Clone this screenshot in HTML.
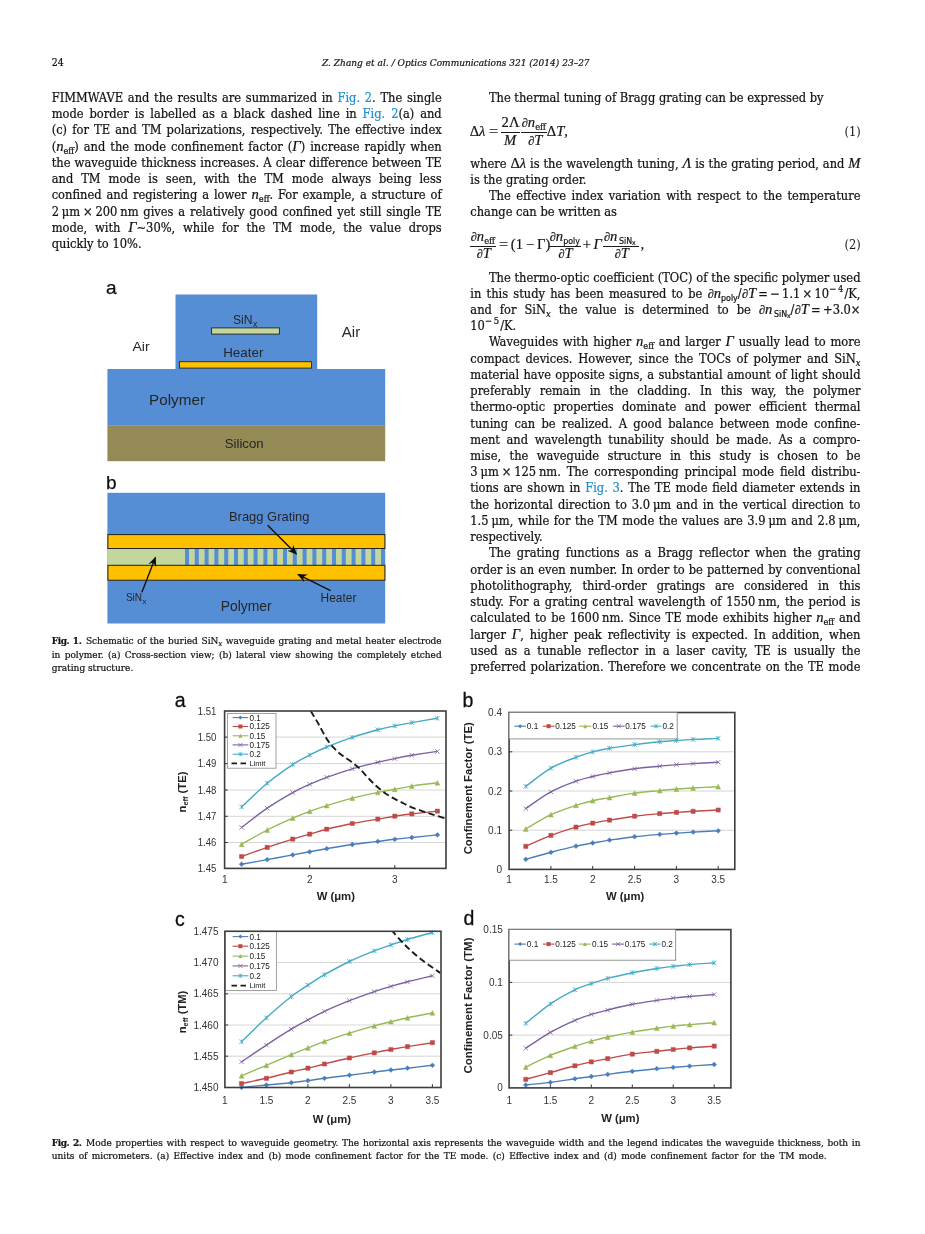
<!DOCTYPE html>
<html lang="en"><head><meta charset="utf-8"><title>Z. Zhang et al. / Optics Communications 321 (2014) 23–27</title>
<style>
html,body{margin:0;padding:0;background:#fff;}
body{width:925px;height:1234px;position:relative;overflow:hidden;color:#141414;font-stretch:condensed;
 font-family:"DejaVu Serif Condensed","DejaVu Serif","Liberation Serif",serif;}
.l{-webkit-text-stroke:0.22px #141414;position:absolute;white-space:nowrap;line-height:16px;font-size:12.75px;height:16px;}
.j{text-align:justify;text-align-last:justify;}
.c{font-size:10px;line-height:12px;height:12px;}
.h{font-size:10.4px;line-height:12px;height:12px;}
.h em{font-size:10px;}
a{color:#2191d0;text-decoration:none;-webkit-text-stroke:0.22px #2191d0;}
b{letter-spacing:-0.4px;}
i,.m{font-family:"Liberation Serif","DejaVu Serif",serif;font-size:14.6px;line-height:0;}
i{font-style:italic;}
i.d{font-size:12.6px;}
.m{font-style:normal;}
sub,sup{font-size:9.2px;line-height:0;position:relative;vertical-align:baseline;}
sub{top:2.6px;} sup{top:-5.6px;font-size:9.4px;}
.c sub{font-size:7.4px;top:1.9px;}
.c i{font-size:11.4px;}
sub sub{font-size:7px;top:1.6px;}
.eq{position:absolute;white-space:nowrap;line-height:0;font-family:"Liberation Serif","DejaVu Serif",serif;font-size:14.6px;}
.eq span{position:absolute;line-height:16px;height:16px;white-space:nowrap;}
.eq sub{font-family:"DejaVu Serif Condensed","DejaVu Serif",serif;font-size:9.3px;top:3px;font-style:normal;}
.eq sub sub{top:1.4px;}
.eq .d{font-size:12.6px;}
.eq span{-webkit-text-stroke:0.2px #141414;}
.eq .w{display:inline-block;transform:scaleX(1.12);transform-origin:0 50%;position:static;}
.bar{position:absolute;height:0;border-top:1px solid #1b1b1b;}
svg{position:absolute;left:0;top:0;}
svg text{font-family:"Liberation Sans","DejaVu Sans",sans-serif;}
</style></head>
<body>
<svg width="925" height="1234" viewBox="0 0 925 1234">
<defs><marker id="ah" viewBox="0 0 10 10" refX="8.5" refY="5" markerWidth="7" markerHeight="7" orient="auto-start-reverse"><path d="M0,0.8 L10,5 L0,9.2 L3,5 Z" fill="#111"/></marker><filter id="sf" x="-2%" y="-2%" width="104%" height="104%"><feGaussianBlur stdDeviation="0.35"/></filter></defs>
<g id="fig1" filter="url(#sf)">
<rect x="175.5" y="294.5" width="141.7" height="75" fill="#558ED5"/>
<rect x="107.4" y="369" width="277.8" height="56.6" fill="#558ED5"/>
<rect x="107.4" y="425.4" width="277.8" height="35.8" fill="#948A54"/>
<rect x="211.6" y="327.9" width="67.8" height="6.2" fill="#C3D69B" stroke="#222" stroke-width="0.9"/>
<rect x="179.4" y="361.7" width="132.1" height="6.4" fill="#FFC000" stroke="#222" stroke-width="0.9"/>
<text x="105.9" y="293.8" font-size="19" fill="#111" stroke="#111" stroke-width="0.25">a</text>
<text x="233.0" y="324.4" font-size="13.4" textLength="19.6" lengthAdjust="spacingAndGlyphs" fill="#262626">SiN</text>
<text x="252.9" y="327.2" font-size="8.6" fill="#262626">x</text>
<text x="223.2" y="357.1" font-size="13.4" textLength="40.2" lengthAdjust="spacingAndGlyphs" fill="#262626">Heater</text>
<text x="132.4" y="351.4" font-size="13.6" textLength="17.2" lengthAdjust="spacingAndGlyphs" fill="#262626">Air</text>
<text x="341.8" y="337.0" font-size="15.2" textLength="18.4" lengthAdjust="spacingAndGlyphs" fill="#262626">Air</text>
<text x="149.0" y="405.3" font-size="14.9" textLength="56.0" lengthAdjust="spacingAndGlyphs" fill="#262626">Polymer</text>
<text x="224.7" y="448.2" font-size="13.2" textLength="39.0" lengthAdjust="spacingAndGlyphs" fill="#262626">Silicon</text>
<text x="106.0" y="489.2" font-size="19" fill="#111" stroke="#111" stroke-width="0.25">b</text>
<rect x="107.4" y="492.8" width="277.8" height="130.7" fill="#558ED5"/>
<rect x="107.4" y="548.4" width="277.8" height="17" fill="#C3D69B"/>
<path d="M185.0,548.4h4v17h-4zM194.8,548.4h4v17h-4zM204.6,548.4h4v17h-4zM214.4,548.4h4v17h-4zM224.2,548.4h4v17h-4zM234.0,548.4h4v17h-4zM243.8,548.4h4v17h-4zM253.6,548.4h4v17h-4zM263.4,548.4h4v17h-4zM273.2,548.4h4v17h-4zM283.0,548.4h4v17h-4zM292.8,548.4h4v17h-4zM302.6,548.4h4v17h-4zM312.4,548.4h4v17h-4zM322.2,548.4h4v17h-4zM332.0,548.4h4v17h-4zM341.8,548.4h4v17h-4zM351.6,548.4h4v17h-4zM361.4,548.4h4v17h-4zM371.2,548.4h4v17h-4zM381.0,548.4h4v17h-4z" fill="#558ED5"/>
<rect x="107.9" y="534.6" width="277.0" height="13.9" fill="#FFC000" stroke="#222" stroke-width="1"/>
<rect x="107.9" y="565.3" width="277.0" height="14.9" fill="#FFC000" stroke="#222" stroke-width="1"/>
<line x1="267.6" y1="525.3" x2="296.1" y2="553.8" stroke="#111" stroke-width="1.4" marker-end="url(#ah)"/>
<line x1="141.9" y1="592.3" x2="155.3" y2="557.8" stroke="#111" stroke-width="1.4" marker-end="url(#ah)"/>
<line x1="330.6" y1="590.6" x2="298.4" y2="574.6" stroke="#111" stroke-width="1.4" marker-end="url(#ah)"/>
<text x="229.0" y="521.3" font-size="13.0" textLength="80.5" lengthAdjust="spacingAndGlyphs" fill="#262626">Bragg Grating</text>
<text x="125.9" y="601.4" font-size="11.4" textLength="16.2" lengthAdjust="spacingAndGlyphs" fill="#262626">SiN</text>
<text x="142.4" y="603.8" font-size="7.6" fill="#262626">x</text>
<text x="320.6" y="601.7" font-size="12.0" textLength="35.8" lengthAdjust="spacingAndGlyphs" fill="#262626">Heater</text>
<text x="220.7" y="610.8" font-size="14.0" textLength="51.0" lengthAdjust="spacingAndGlyphs" fill="#262626">Polymer</text>
</g>
<g id="fig2" filter="url(#sf)">
<rect x="224.6" y="711.0" width="221.4" height="157.4" fill="#fff"/>
<path d="M224.6,737.1H446.0M224.6,763.6H446.0M224.6,790.0H446.0M224.6,816.3H446.0M224.6,842.5H446.0" stroke="#d6d6d6" stroke-width="1"/>
<path d="M309.7,868.4v-3.4M394.8,868.4v-3.4M224.6,737.1h3.2M224.6,763.6h3.2M224.6,790.0h3.2M224.6,816.3h3.2M224.6,842.5h3.2" stroke="#333" stroke-width="1"/>
<clipPath id="ca"><rect x="224.6" y="711.0" width="221.4" height="157.4"/></clipPath>
<path d="M241.6,864.2C245.9,863.4 258.7,861.2 267.2,859.6C275.7,858.0 285.6,856.2 292.7,854.9C299.8,853.6 304.0,852.8 309.7,851.8C315.4,850.8 319.6,849.9 326.7,848.7C333.8,847.5 343.8,845.7 352.3,844.5C360.8,843.3 370.7,842.3 377.8,841.4C384.9,840.5 389.1,839.9 394.8,839.3C400.5,838.6 404.7,838.2 411.8,837.5C418.9,836.8 433.1,835.3 437.4,834.9" fill="none" stroke="#4A7EBB" stroke-width="1.4" stroke-linejoin="round"/>
<path d="M241.6,861.8L244.0,864.2L241.6,866.6L239.2,864.2ZM267.2,857.2L269.6,859.6L267.2,862.0L264.8,859.6ZM292.7,852.5L295.1,854.9L292.7,857.3L290.3,854.9ZM309.7,849.4L312.1,851.8L309.7,854.2L307.3,851.8ZM326.7,846.3L329.1,848.7L326.7,851.1L324.3,848.7ZM352.3,842.1L354.7,844.5L352.3,846.9L349.9,844.5ZM377.8,839.0L380.2,841.4L377.8,843.8L375.4,841.4ZM394.8,836.9L397.2,839.3L394.8,841.7L392.4,839.3ZM411.8,835.1L414.2,837.5L411.8,839.9L409.4,837.5ZM437.4,832.5L439.8,834.9L437.4,837.3L435.0,834.9Z" fill="#4A7EBB" stroke="#4A7EBB" stroke-width="0.5"/>
<path d="M241.6,856.5C245.9,855.0 258.7,850.3 267.2,847.4C275.7,844.5 285.6,841.3 292.7,839.1C299.8,836.9 304.0,835.8 309.7,834.1C315.4,832.5 319.6,831.0 326.7,829.2C333.8,827.4 343.8,825.2 352.3,823.5C360.8,821.8 370.7,820.3 377.8,819.1C384.9,817.9 389.1,817.1 394.8,816.2C400.5,815.3 404.7,814.8 411.8,813.9C418.9,813.0 433.1,811.6 437.4,811.1" fill="none" stroke="#BE4B48" stroke-width="1.4" stroke-linejoin="round"/>
<path d="M239.5,854.4h4.2v4.2h-4.2zM265.1,845.3h4.2v4.2h-4.2zM290.6,837.0h4.2v4.2h-4.2zM307.6,832.0h4.2v4.2h-4.2zM324.6,827.1h4.2v4.2h-4.2zM350.2,821.4h4.2v4.2h-4.2zM375.7,817.0h4.2v4.2h-4.2zM392.7,814.1h4.2v4.2h-4.2zM409.7,811.8h4.2v4.2h-4.2zM435.3,809.0h4.2v4.2h-4.2z" fill="#BE4B48" stroke="#BE4B48" stroke-width="0.5"/>
<path d="M241.6,844.3C245.9,841.9 258.7,834.4 267.2,830.0C275.7,825.6 285.6,821.2 292.7,818.1C299.8,815.0 304.0,813.4 309.7,811.3C315.4,809.2 319.6,807.8 326.7,805.6C333.8,803.4 343.8,800.3 352.3,798.1C360.8,795.9 370.7,793.9 377.8,792.4C384.9,790.9 389.1,790.3 394.8,789.3C400.5,788.2 404.7,787.2 411.8,786.1C418.9,785.0 433.1,783.3 437.4,782.8" fill="none" stroke="#98B954" stroke-width="1.4" stroke-linejoin="round"/>
<path d="M241.6,841.9L244.0,846.7L239.2,846.7ZM267.2,827.6L269.6,832.4L264.8,832.4ZM292.7,815.7L295.1,820.5L290.3,820.5ZM309.7,808.9L312.1,813.7L307.3,813.7ZM326.7,803.2L329.1,808.0L324.3,808.0ZM352.3,795.7L354.7,800.5L349.9,800.5ZM377.8,790.0L380.2,794.8L375.4,794.8ZM394.8,786.9L397.2,791.7L392.4,791.7ZM411.8,783.7L414.2,788.5L409.4,788.5ZM437.4,780.4L439.8,785.2L435.0,785.2Z" fill="#98B954" stroke="#98B954" stroke-width="0.5"/>
<path d="M241.6,827.4C245.9,824.2 258.7,814.0 267.2,808.2C275.7,802.4 285.6,796.6 292.7,792.6C299.8,788.6 304.0,786.8 309.7,784.3C315.4,781.8 319.6,779.9 326.7,777.3C333.8,774.7 343.8,771.3 352.3,768.8C360.8,766.3 370.7,764.0 377.8,762.3C384.9,760.6 389.1,759.8 394.8,758.6C400.5,757.4 404.7,756.5 411.8,755.3C418.9,754.1 433.1,752.0 437.4,751.4" fill="none" stroke="#7D60A0" stroke-width="1.4" stroke-linejoin="round"/>
<path d="M239.4,825.2L243.8,829.6M243.8,825.2L239.4,829.6M265.0,806.0L269.4,810.4M269.4,806.0L265.0,810.4M290.5,790.4L294.9,794.8M294.9,790.4L290.5,794.8M307.5,782.1L311.9,786.5M311.9,782.1L307.5,786.5M324.5,775.1L328.9,779.5M328.9,775.1L324.5,779.5M350.1,766.6L354.5,771.0M354.5,766.6L350.1,771.0M375.6,760.1L380.0,764.5M380.0,760.1L375.6,764.5M392.6,756.4L397.0,760.8M397.0,756.4L392.6,760.8M409.6,753.1L414.0,757.5M414.0,753.1L409.6,757.5M435.2,749.2L439.6,753.6M439.6,749.2L435.2,753.6" fill="none" stroke="#7D60A0" stroke-width="0.8"/>
<path d="M241.6,806.9C245.9,803.0 258.7,790.3 267.2,783.3C275.7,776.2 285.6,769.3 292.7,764.6C299.8,759.9 304.0,757.9 309.7,755.0C315.4,752.1 319.6,749.9 326.7,747.0C333.8,744.1 343.8,740.3 352.3,737.4C360.8,734.5 370.7,731.7 377.8,729.8C384.9,727.9 389.1,727.1 394.8,725.9C400.5,724.7 404.7,723.9 411.8,722.6C418.9,721.3 433.1,718.9 437.4,718.2" fill="none" stroke="#46AAC5" stroke-width="1.4" stroke-linejoin="round"/>
<path d="M239.3,804.6L243.9,809.2M243.9,804.6L239.3,809.2M241.6,804.6V809.2M264.9,781.0L269.5,785.6M269.5,781.0L264.9,785.6M267.2,781.0V785.6M290.4,762.3L295.0,766.9M295.0,762.3L290.4,766.9M292.7,762.3V766.9M307.4,752.7L312.0,757.3M312.0,752.7L307.4,757.3M309.7,752.7V757.3M324.4,744.7L329.0,749.3M329.0,744.7L324.4,749.3M326.7,744.7V749.3M350.0,735.1L354.6,739.7M354.6,735.1L350.0,739.7M352.3,735.1V739.7M375.5,727.5L380.1,732.1M380.1,727.5L375.5,732.1M377.8,727.5V732.1M392.5,723.6L397.1,728.2M397.1,723.6L392.5,728.2M394.8,723.6V728.2M409.5,720.3L414.1,724.9M414.1,720.3L409.5,724.9M411.8,720.3V724.9M435.1,715.9L439.7,720.5M439.7,715.9L435.1,720.5M437.4,715.9V720.5" fill="none" stroke="#46AAC5" stroke-width="0.8"/>
<path d="M310.8,711.1C312.1,713.2 315.8,719.2 318.5,724.0C321.2,728.8 324.4,735.4 327.2,739.6C329.9,743.8 332.6,746.5 335.0,749.1C337.4,751.7 339.3,753.2 341.9,755.2C344.5,757.2 347.7,759.1 350.6,761.2C353.5,763.4 356.3,765.4 359.2,768.1C362.1,770.9 365.0,774.7 367.9,777.7C370.8,780.7 373.6,783.7 376.5,786.3C379.4,788.9 382.3,791.2 385.2,793.2C388.1,795.2 390.9,796.8 393.8,798.4C396.7,800.0 399.6,801.3 402.5,802.8C405.4,804.2 406.8,805.4 411.1,807.1C415.4,808.8 422.6,811.2 428.4,813.1C434.2,815.0 443.1,817.7 446.0,818.6" fill="none" stroke="#1a1a1a" stroke-width="1.9" stroke-dasharray="6.5,3.5" clip-path="url(#ca)"/>
<rect x="227.5" y="713.4" width="48.5" height="54.8" fill="#fff" stroke="#8a8a8a" stroke-width="0.8"/>
<path d="M232.6,717.6H248.2" stroke="#4A7EBB" stroke-width="1.1"/>
<path d="M240.4,715.6L242.4,717.6L240.4,719.6L238.4,717.6Z" fill="#4A7EBB"/>
<text x="249.4" y="720.5" font-size="8.2" fill="#222">0.1</text>
<path d="M232.6,726.5H248.2" stroke="#BE4B48" stroke-width="1.1"/>
<path d="M238.4,724.5h4.0v4.0h-4.0z" fill="#BE4B48"/>
<text x="249.4" y="729.4" font-size="8.2" fill="#222">0.125</text>
<path d="M232.6,735.8H248.2" stroke="#98B954" stroke-width="1.1"/>
<path d="M240.4,733.8L242.4,737.8L238.4,737.8Z" fill="#98B954"/>
<text x="249.4" y="738.7" font-size="8.2" fill="#222">0.15</text>
<path d="M232.6,744.9H248.2" stroke="#7D60A0" stroke-width="1.1"/>
<path d="M238.4,742.9L242.4,746.9M242.4,742.9L238.4,746.9" fill="none" stroke="#7D60A0" stroke-width="0.8"/>
<text x="249.4" y="747.8" font-size="8.2" fill="#222">0.175</text>
<path d="M232.6,754.2H248.2" stroke="#46AAC5" stroke-width="1.1"/>
<path d="M238.4,752.2L242.4,756.2M242.4,752.2L238.4,756.2M240.4,752.2V756.2" fill="none" stroke="#46AAC5" stroke-width="0.8"/>
<text x="249.4" y="757.1" font-size="8.2" fill="#222">0.2</text>
<path d="M231.5,763.3H248" stroke="#1a1a1a" stroke-width="1.7" stroke-dasharray="5.5,3.5"/>
<text x="249.4" y="766.0" font-size="7.6" fill="#222">Limit</text>
<rect x="224.6" y="711.0" width="221.4" height="157.4" fill="none" stroke="#3c3c3c" stroke-width="1.6"/>
<text x="216.4" y="714.6" font-size="10" text-anchor="end" textLength="18.6" lengthAdjust="spacingAndGlyphs" fill="#333">1.51</text>
<text x="216.4" y="740.7" font-size="10" text-anchor="end" textLength="18.6" lengthAdjust="spacingAndGlyphs" fill="#333">1.50</text>
<text x="216.4" y="767.2" font-size="10" text-anchor="end" textLength="18.6" lengthAdjust="spacingAndGlyphs" fill="#333">1.49</text>
<text x="216.4" y="793.6" font-size="10" text-anchor="end" textLength="18.6" lengthAdjust="spacingAndGlyphs" fill="#333">1.48</text>
<text x="216.4" y="819.9" font-size="10" text-anchor="end" textLength="18.6" lengthAdjust="spacingAndGlyphs" fill="#333">1.47</text>
<text x="216.4" y="846.1" font-size="10" text-anchor="end" textLength="18.6" lengthAdjust="spacingAndGlyphs" fill="#333">1.46</text>
<text x="216.4" y="872.0" font-size="10" text-anchor="end" textLength="18.6" lengthAdjust="spacingAndGlyphs" fill="#333">1.45</text>
<text x="224.8" y="882.9" font-size="10.0" text-anchor="middle" fill="#333">1</text>
<text x="309.7" y="882.9" font-size="10.0" text-anchor="middle" fill="#333">2</text>
<text x="394.8" y="882.9" font-size="10.0" text-anchor="middle" fill="#333">3</text>
<text x="335.8" y="899.7" font-size="11.3" text-anchor="middle" font-weight="bold" fill="#222">W (μm)</text>
<text transform="translate(186.2,792) rotate(-90)" font-size="11.2" font-weight="bold" text-anchor="middle" fill="#222">n<tspan font-size="7.4" dy="2">eff</tspan><tspan dy="-2"> (TE)</tspan></text>
<text x="174.7" y="707.4" font-size="19.5" fill="#111" stroke="#111" stroke-width="0.3">a</text>
<rect x="509.1" y="712.5" width="225.7" height="156.9" fill="#fff"/>
<path d="M509.1,751.8H734.8M509.1,791.0H734.8M509.1,830.2H734.8" stroke="#d6d6d6" stroke-width="1"/>
<path d="M550.9,869.4v-3.4M592.7,869.4v-3.4M634.6,869.4v-3.4M676.4,869.4v-3.4M718.2,869.4v-3.4M509.1,751.8h3.2M509.1,791.0h3.2M509.1,830.2h3.2" stroke="#333" stroke-width="1"/>
<path d="M525.8,859.3C530.0,858.1 542.5,854.5 550.9,852.3C559.3,850.1 569.0,847.6 576.0,846.1C583.0,844.6 587.1,844.0 592.7,843.0C598.3,842.0 602.5,841.1 609.5,840.1C616.5,839.1 626.2,837.7 634.6,836.7C643.0,835.8 652.7,835.0 659.7,834.4C666.7,833.8 670.8,833.5 676.4,833.1C682.0,832.7 686.1,832.5 693.1,832.1C700.1,831.7 714.0,831.0 718.2,830.8" fill="none" stroke="#4A7EBB" stroke-width="1.4" stroke-linejoin="round"/>
<path d="M525.8,856.9L528.2,859.3L525.8,861.7L523.4,859.3ZM550.9,849.9L553.3,852.3L550.9,854.7L548.5,852.3ZM576.0,843.7L578.4,846.1L576.0,848.5L573.6,846.1ZM592.7,840.6L595.1,843.0L592.7,845.4L590.3,843.0ZM609.5,837.7L611.9,840.1L609.5,842.5L607.1,840.1ZM634.6,834.3L637.0,836.7L634.6,839.1L632.2,836.7ZM659.7,832.0L662.1,834.4L659.7,836.8L657.3,834.4ZM676.4,830.7L678.8,833.1L676.4,835.5L674.0,833.1ZM693.1,829.7L695.5,832.1L693.1,834.5L690.7,832.1ZM718.2,828.4L720.6,830.8L718.2,833.2L715.8,830.8Z" fill="#4A7EBB" stroke="#4A7EBB" stroke-width="0.5"/>
<path d="M525.8,846.3C530.0,844.5 542.5,838.6 550.9,835.4C559.3,832.2 569.0,829.1 576.0,827.1C583.0,825.1 587.1,824.4 592.7,823.2C598.3,822.0 602.5,821.3 609.5,820.1C616.5,818.9 626.2,817.3 634.6,816.2C643.0,815.1 652.7,814.2 659.7,813.6C666.7,813.0 670.8,812.8 676.4,812.4C682.0,812.0 686.1,811.7 693.1,811.3C700.1,810.9 714.0,810.2 718.2,810.0" fill="none" stroke="#BE4B48" stroke-width="1.4" stroke-linejoin="round"/>
<path d="M523.7,844.2h4.2v4.2h-4.2zM548.8,833.3h4.2v4.2h-4.2zM573.9,825.0h4.2v4.2h-4.2zM590.6,821.1h4.2v4.2h-4.2zM607.4,818.0h4.2v4.2h-4.2zM632.5,814.1h4.2v4.2h-4.2zM657.6,811.5h4.2v4.2h-4.2zM674.3,810.3h4.2v4.2h-4.2zM691.0,809.2h4.2v4.2h-4.2zM716.1,807.9h4.2v4.2h-4.2z" fill="#BE4B48" stroke="#BE4B48" stroke-width="0.5"/>
<path d="M525.8,829.0C530.0,826.6 542.5,818.7 550.9,814.7C559.3,810.8 569.0,807.6 576.0,805.3C583.0,803.0 587.1,802.0 592.7,800.7C598.3,799.4 602.5,798.9 609.5,797.6C616.5,796.3 626.2,794.3 634.6,793.1C643.0,791.9 652.7,791.3 659.7,790.6C666.7,789.9 670.8,789.4 676.4,789.0C682.0,788.6 686.1,788.4 693.1,788.0C700.1,787.6 714.0,786.9 718.2,786.7" fill="none" stroke="#98B954" stroke-width="1.4" stroke-linejoin="round"/>
<path d="M525.8,826.6L528.2,831.4L523.4,831.4ZM550.9,812.3L553.3,817.1L548.5,817.1ZM576.0,802.9L578.4,807.7L573.6,807.7ZM592.7,798.3L595.1,803.1L590.3,803.1ZM609.5,795.2L611.9,800.0L607.1,800.0ZM634.6,790.7L637.0,795.5L632.2,795.5ZM659.7,788.2L662.1,793.0L657.3,793.0ZM676.4,786.6L678.8,791.4L674.0,791.4ZM693.1,785.6L695.5,790.4L690.7,790.4ZM718.2,784.3L720.6,789.1L715.8,789.1Z" fill="#98B954" stroke="#98B954" stroke-width="0.5"/>
<path d="M525.8,808.5C530.0,805.7 542.5,796.4 550.9,791.9C559.3,787.4 569.0,783.8 576.0,781.2C583.0,778.6 587.1,777.9 592.7,776.5C598.3,775.1 602.5,774.2 609.5,772.9C616.5,771.6 626.2,769.9 634.6,768.8C643.0,767.7 652.7,766.9 659.7,766.2C666.7,765.5 670.8,765.0 676.4,764.6C682.0,764.2 686.1,764.0 693.1,763.6C700.1,763.2 714.0,762.5 718.2,762.3" fill="none" stroke="#7D60A0" stroke-width="1.4" stroke-linejoin="round"/>
<path d="M523.6,806.3L528.0,810.7M528.0,806.3L523.6,810.7M548.7,789.7L553.1,794.1M553.1,789.7L548.7,794.1M573.8,779.0L578.2,783.4M578.2,779.0L573.8,783.4M590.5,774.3L594.9,778.7M594.9,774.3L590.5,778.7M607.3,770.7L611.7,775.1M611.7,770.7L607.3,775.1M632.4,766.6L636.8,771.0M636.8,766.6L632.4,771.0M657.5,764.0L661.9,768.4M661.9,764.0L657.5,768.4M674.2,762.4L678.6,766.8M678.6,762.4L674.2,766.8M690.9,761.4L695.3,765.8M695.3,761.4L690.9,765.8M716.0,760.1L720.4,764.5M720.4,760.1L716.0,764.5" fill="none" stroke="#7D60A0" stroke-width="0.8"/>
<path d="M525.8,786.4C530.0,783.4 542.5,773.1 550.9,768.2C559.3,763.4 569.0,760.0 576.0,757.3C583.0,754.6 587.1,753.4 592.7,751.9C598.3,750.4 602.5,749.5 609.5,748.3C616.5,747.1 626.2,745.7 634.6,744.6C643.0,743.5 652.7,742.5 659.7,741.8C666.7,741.1 670.8,740.9 676.4,740.5C682.0,740.1 686.1,739.8 693.1,739.4C700.1,739.0 714.0,738.6 718.2,738.4" fill="none" stroke="#46AAC5" stroke-width="1.4" stroke-linejoin="round"/>
<path d="M523.5,784.1L528.1,788.7M528.1,784.1L523.5,788.7M525.8,784.1V788.7M548.6,765.9L553.2,770.5M553.2,765.9L548.6,770.5M550.9,765.9V770.5M573.7,755.0L578.3,759.6M578.3,755.0L573.7,759.6M576.0,755.0V759.6M590.4,749.6L595.0,754.2M595.0,749.6L590.4,754.2M592.7,749.6V754.2M607.2,746.0L611.8,750.6M611.8,746.0L607.2,750.6M609.5,746.0V750.6M632.3,742.3L636.9,746.9M636.9,742.3L632.3,746.9M634.6,742.3V746.9M657.4,739.5L662.0,744.1M662.0,739.5L657.4,744.1M659.7,739.5V744.1M674.1,738.2L678.7,742.8M678.7,738.2L674.1,742.8M676.4,738.2V742.8M690.8,737.1L695.4,741.7M695.4,737.1L690.8,741.7M693.1,737.1V741.7M715.9,736.1L720.5,740.7M720.5,736.1L715.9,740.7M718.2,736.1V740.7" fill="none" stroke="#46AAC5" stroke-width="0.8"/>
<rect x="509.1" y="712.5" width="225.7" height="156.9" fill="none" stroke="#3c3c3c" stroke-width="1.6"/>
<rect x="509.1" y="712.5" width="168.1" height="26.4" fill="#fff" stroke="#7a7a7a" stroke-width="0.8"/>
<path d="M514.3,726.2H526.0" stroke="#4A7EBB" stroke-width="1.1"/>
<path d="M520.1,724.2L522.1,726.2L520.1,728.2L518.1,726.2Z" fill="#4A7EBB"/>
<text x="526.8" y="729.1" font-size="8.2" fill="#222">0.1</text>
<path d="M542.8,726.2H554.5" stroke="#BE4B48" stroke-width="1.1"/>
<path d="M546.6,724.2h4.0v4.0h-4.0z" fill="#BE4B48"/>
<text x="555.3" y="729.1" font-size="8.2" fill="#222">0.125</text>
<path d="M579.1,726.2H591.3" stroke="#98B954" stroke-width="1.1"/>
<path d="M585.2,724.2L587.2,728.2L583.2,728.2Z" fill="#98B954"/>
<text x="592.4" y="729.1" font-size="8.2" fill="#222">0.15</text>
<path d="M612.9,726.2H624.5" stroke="#7D60A0" stroke-width="1.1"/>
<path d="M616.7,724.2L620.7,728.2M620.7,724.2L616.7,728.2" fill="none" stroke="#7D60A0" stroke-width="0.8"/>
<text x="625.3" y="729.1" font-size="8.2" fill="#222">0.175</text>
<path d="M650.5,726.2H661.4" stroke="#46AAC5" stroke-width="1.1"/>
<path d="M654.0,724.2L658.0,728.2M658.0,724.2L654.0,728.2M656.0,724.2V728.2" fill="none" stroke="#46AAC5" stroke-width="0.8"/>
<text x="662.4" y="729.1" font-size="8.2" fill="#222">0.2</text>
<text x="502.0" y="716.0" font-size="10.0" text-anchor="end" fill="#333">0.4</text>
<text x="502.0" y="755.3" font-size="10.0" text-anchor="end" fill="#333">0.3</text>
<text x="502.0" y="794.5" font-size="10.0" text-anchor="end" fill="#333">0.2</text>
<text x="502.0" y="833.7" font-size="10.0" text-anchor="end" fill="#333">0.1</text>
<text x="502.0" y="872.9" font-size="10.0" text-anchor="end" fill="#333">0</text>
<text x="509.1" y="882.9" font-size="10.0" text-anchor="middle" fill="#333">1</text>
<text x="550.9" y="882.9" font-size="10.0" text-anchor="middle" fill="#333">1.5</text>
<text x="592.7" y="882.9" font-size="10.0" text-anchor="middle" fill="#333">2</text>
<text x="634.6" y="882.9" font-size="10.0" text-anchor="middle" fill="#333">2.5</text>
<text x="676.4" y="882.9" font-size="10.0" text-anchor="middle" fill="#333">3</text>
<text x="718.2" y="882.9" font-size="10.0" text-anchor="middle" fill="#333">3.5</text>
<text x="625.2" y="899.7" font-size="11.3" text-anchor="middle" font-weight="bold" fill="#222">W (μm)</text>
<text transform="translate(472.0,788.3) rotate(-90)" font-size="11.3" font-weight="bold" text-anchor="middle" textLength="132" lengthAdjust="spacingAndGlyphs" fill="#222">Confinement Factor (TE)</text>
<text x="462.6" y="707.4" font-size="19.5" fill="#111" stroke="#111" stroke-width="0.3">b</text>
<rect x="224.9" y="931.3" width="216.1" height="156.2" fill="#fff"/>
<path d="M224.9,962.5H441.0M224.9,993.8H441.0M224.9,1025.0H441.0M224.9,1056.2H441.0" stroke="#d6d6d6" stroke-width="1"/>
<path d="M266.4,1087.5v-3.4M307.9,1087.5v-3.4M349.4,1087.5v-3.4M390.9,1087.5v-3.4M432.4,1087.5v-3.4M224.9,962.5h3.2M224.9,993.8h3.2M224.9,1025.0h3.2M224.9,1056.2h3.2" stroke="#333" stroke-width="1"/>
<clipPath id="cc"><rect x="224.9" y="931.3" width="216.1" height="156.2"/></clipPath>
<path d="M241.5,1087.4C245.7,1087.0 258.1,1085.8 266.4,1085.0C274.7,1084.2 284.4,1083.4 291.3,1082.7C298.2,1082.0 302.4,1081.3 307.9,1080.6C313.4,1079.9 317.6,1079.2 324.5,1078.3C331.4,1077.4 341.1,1076.2 349.4,1075.2C357.7,1074.2 367.4,1072.9 374.3,1072.0C381.2,1071.1 385.4,1070.6 390.9,1070.0C396.4,1069.4 400.6,1069.0 407.5,1068.2C414.4,1067.4 428.2,1065.8 432.4,1065.3" fill="none" stroke="#4A7EBB" stroke-width="1.4" stroke-linejoin="round"/>
<path d="M241.5,1085.0L243.9,1087.4L241.5,1089.8L239.1,1087.4ZM266.4,1082.6L268.8,1085.0L266.4,1087.4L264.0,1085.0ZM291.3,1080.3L293.7,1082.7L291.3,1085.1L288.9,1082.7ZM307.9,1078.2L310.3,1080.6L307.9,1083.0L305.5,1080.6ZM324.5,1075.9L326.9,1078.3L324.5,1080.7L322.1,1078.3ZM349.4,1072.8L351.8,1075.2L349.4,1077.6L347.0,1075.2ZM374.3,1069.6L376.7,1072.0L374.3,1074.4L371.9,1072.0ZM390.9,1067.6L393.3,1070.0L390.9,1072.4L388.5,1070.0ZM407.5,1065.8L409.9,1068.2L407.5,1070.6L405.1,1068.2ZM432.4,1062.9L434.8,1065.3L432.4,1067.7L430.0,1065.3Z" fill="#4A7EBB" stroke="#4A7EBB" stroke-width="0.5"/>
<path d="M241.5,1083.5C245.7,1082.6 258.1,1080.2 266.4,1078.3C274.7,1076.4 284.4,1073.7 291.3,1072.0C298.2,1070.3 302.4,1069.5 307.9,1068.2C313.4,1066.9 317.6,1065.7 324.5,1064.0C331.4,1062.3 341.1,1059.9 349.4,1058.0C357.7,1056.1 367.4,1054.2 374.3,1052.8C381.2,1051.4 385.4,1050.5 390.9,1049.5C396.4,1048.5 400.6,1047.7 407.5,1046.6C414.4,1045.5 428.2,1043.3 432.4,1042.7" fill="none" stroke="#BE4B48" stroke-width="1.4" stroke-linejoin="round"/>
<path d="M239.4,1081.4h4.2v4.2h-4.2zM264.3,1076.2h4.2v4.2h-4.2zM289.2,1069.9h4.2v4.2h-4.2zM305.8,1066.1h4.2v4.2h-4.2zM322.4,1061.9h4.2v4.2h-4.2zM347.3,1055.9h4.2v4.2h-4.2zM372.2,1050.7h4.2v4.2h-4.2zM388.8,1047.4h4.2v4.2h-4.2zM405.4,1044.5h4.2v4.2h-4.2zM430.3,1040.6h4.2v4.2h-4.2z" fill="#BE4B48" stroke="#BE4B48" stroke-width="0.5"/>
<path d="M241.5,1075.9C245.7,1074.1 258.1,1068.8 266.4,1065.3C274.7,1061.8 284.4,1057.6 291.3,1054.7C298.2,1051.8 302.4,1050.1 307.9,1047.9C313.4,1045.7 317.6,1043.9 324.5,1041.4C331.4,1038.9 341.1,1035.7 349.4,1033.1C357.7,1030.5 367.4,1027.8 374.3,1025.9C381.2,1024.0 385.4,1023.1 390.9,1021.7C396.4,1020.4 400.6,1019.3 407.5,1017.8C414.4,1016.3 428.2,1013.7 432.4,1012.9" fill="none" stroke="#98B954" stroke-width="1.4" stroke-linejoin="round"/>
<path d="M241.5,1073.5L243.9,1078.3L239.1,1078.3ZM266.4,1062.9L268.8,1067.7L264.0,1067.7ZM291.3,1052.3L293.7,1057.1L288.9,1057.1ZM307.9,1045.5L310.3,1050.3L305.5,1050.3ZM324.5,1039.0L326.9,1043.8L322.1,1043.8ZM349.4,1030.7L351.8,1035.5L347.0,1035.5ZM374.3,1023.5L376.7,1028.3L371.9,1028.3ZM390.9,1019.3L393.3,1024.1L388.5,1024.1ZM407.5,1015.4L409.9,1020.2L405.1,1020.2ZM432.4,1010.5L434.8,1015.3L430.0,1015.3Z" fill="#98B954" stroke="#98B954" stroke-width="0.5"/>
<path d="M241.5,1061.9C245.7,1059.1 258.1,1050.5 266.4,1045.1C274.7,1039.6 284.4,1033.4 291.3,1029.2C298.2,1025.0 302.4,1022.9 307.9,1019.9C313.4,1016.9 317.6,1014.5 324.5,1011.3C331.4,1008.1 341.1,1004.0 349.4,1000.7C357.7,997.4 367.4,994.0 374.3,991.6C381.2,989.2 385.4,988.0 390.9,986.4C396.4,984.8 400.6,983.6 407.5,981.8C414.4,980.0 428.2,976.8 432.4,975.8" fill="none" stroke="#7D60A0" stroke-width="1.4" stroke-linejoin="round"/>
<path d="M239.3,1059.7L243.7,1064.1M243.7,1059.7L239.3,1064.1M264.2,1042.9L268.6,1047.3M268.6,1042.9L264.2,1047.3M289.1,1027.0L293.5,1031.4M293.5,1027.0L289.1,1031.4M305.7,1017.7L310.1,1022.1M310.1,1017.7L305.7,1022.1M322.3,1009.1L326.7,1013.5M326.7,1009.1L322.3,1013.5M347.2,998.5L351.6,1002.9M351.6,998.5L347.2,1002.9M372.1,989.4L376.5,993.8M376.5,989.4L372.1,993.8M388.7,984.2L393.1,988.6M393.1,984.2L388.7,988.6M405.3,979.6L409.7,984.0M409.7,979.6L405.3,984.0M430.2,973.6L434.6,978.0M434.6,973.6L430.2,978.0" fill="none" stroke="#7D60A0" stroke-width="0.8"/>
<path d="M241.5,1041.7C245.7,1037.7 258.1,1025.3 266.4,1017.8C274.7,1010.3 284.4,1002.0 291.3,996.5C298.2,991.0 302.4,988.7 307.9,985.1C313.4,981.5 317.6,978.6 324.5,974.7C331.4,970.8 341.1,965.5 349.4,961.5C357.7,957.5 367.4,953.7 374.3,950.9C381.2,948.1 385.4,946.8 390.9,944.9C396.4,943.0 400.6,941.6 407.5,939.5C414.4,937.4 428.2,933.7 432.4,932.5" fill="none" stroke="#46AAC5" stroke-width="1.4" stroke-linejoin="round"/>
<path d="M239.2,1039.4L243.8,1044.0M243.8,1039.4L239.2,1044.0M241.5,1039.4V1044.0M264.1,1015.5L268.7,1020.1M268.7,1015.5L264.1,1020.1M266.4,1015.5V1020.1M289.0,994.2L293.6,998.8M293.6,994.2L289.0,998.8M291.3,994.2V998.8M305.6,982.8L310.2,987.4M310.2,982.8L305.6,987.4M307.9,982.8V987.4M322.2,972.4L326.8,977.0M326.8,972.4L322.2,977.0M324.5,972.4V977.0M347.1,959.2L351.7,963.8M351.7,959.2L347.1,963.8M349.4,959.2V963.8M372.0,948.6L376.6,953.2M376.6,948.6L372.0,953.2M374.3,948.6V953.2M388.6,942.6L393.2,947.2M393.2,942.6L388.6,947.2M390.9,942.6V947.2M405.2,937.2L409.8,941.8M409.8,937.2L405.2,941.8M407.5,937.2V941.8M430.1,930.2L434.7,934.8M434.7,930.2L430.1,934.8M432.4,930.2V934.8" fill="none" stroke="#46AAC5" stroke-width="0.8"/>
<path d="M391.5,930.0C393.9,932.7 400.9,941.0 406.0,946.0C411.1,951.0 416.3,955.5 422.0,960.0C427.7,964.5 437.3,970.8 440.4,973.0" fill="none" stroke="#1a1a1a" stroke-width="1.9" stroke-dasharray="6.5,3.5" clip-path="url(#cc)"/>
<rect x="224.9" y="931.3" width="51.6" height="59.3" fill="#fff" stroke="#8a8a8a" stroke-width="0.8"/>
<path d="M232.6,936.6H248.2" stroke="#4A7EBB" stroke-width="1.1"/>
<path d="M240.4,934.6L242.4,936.6L240.4,938.6L238.4,936.6Z" fill="#4A7EBB"/>
<text x="249.4" y="939.5" font-size="8.2" fill="#222">0.1</text>
<path d="M232.6,946.2H248.2" stroke="#BE4B48" stroke-width="1.1"/>
<path d="M238.4,944.2h4.0v4.0h-4.0z" fill="#BE4B48"/>
<text x="249.4" y="949.1" font-size="8.2" fill="#222">0.125</text>
<path d="M232.6,956.1H248.2" stroke="#98B954" stroke-width="1.1"/>
<path d="M240.4,954.1L242.4,958.1L238.4,958.1Z" fill="#98B954"/>
<text x="249.4" y="959.0" font-size="8.2" fill="#222">0.15</text>
<path d="M232.6,965.9H248.2" stroke="#7D60A0" stroke-width="1.1"/>
<path d="M238.4,963.9L242.4,967.9M242.4,963.9L238.4,967.9" fill="none" stroke="#7D60A0" stroke-width="0.8"/>
<text x="249.4" y="968.8" font-size="8.2" fill="#222">0.175</text>
<path d="M232.6,975.8H248.2" stroke="#46AAC5" stroke-width="1.1"/>
<path d="M238.4,973.8L242.4,977.8M242.4,973.8L238.4,977.8M240.4,973.8V977.8" fill="none" stroke="#46AAC5" stroke-width="0.8"/>
<text x="249.4" y="978.7" font-size="8.2" fill="#222">0.2</text>
<path d="M231.5,985.6H248" stroke="#1a1a1a" stroke-width="1.7" stroke-dasharray="5.5,3.5"/>
<text x="249.4" y="988.3" font-size="7.6" fill="#222">Limit</text>
<rect x="224.9" y="931.3" width="216.1" height="156.2" fill="none" stroke="#3c3c3c" stroke-width="1.6"/>
<text x="218.5" y="934.8" font-size="10.0" text-anchor="end" fill="#333">1.475</text>
<text x="218.5" y="966.0" font-size="10.0" text-anchor="end" fill="#333">1.470</text>
<text x="218.5" y="997.3" font-size="10.0" text-anchor="end" fill="#333">1.465</text>
<text x="218.5" y="1028.5" font-size="10.0" text-anchor="end" fill="#333">1.460</text>
<text x="218.5" y="1059.7" font-size="10.0" text-anchor="end" fill="#333">1.455</text>
<text x="218.5" y="1091.0" font-size="10.0" text-anchor="end" fill="#333">1.450</text>
<text x="224.9" y="1104.3" font-size="10.0" text-anchor="middle" fill="#333">1</text>
<text x="266.4" y="1104.3" font-size="10.0" text-anchor="middle" fill="#333">1.5</text>
<text x="307.9" y="1104.3" font-size="10.0" text-anchor="middle" fill="#333">2</text>
<text x="349.4" y="1104.3" font-size="10.0" text-anchor="middle" fill="#333">2.5</text>
<text x="390.9" y="1104.3" font-size="10.0" text-anchor="middle" fill="#333">3</text>
<text x="432.4" y="1104.3" font-size="10.0" text-anchor="middle" fill="#333">3.5</text>
<text x="331.9" y="1123.0" font-size="11.3" text-anchor="middle" font-weight="bold" fill="#222">W (μm)</text>
<text transform="translate(186.2,1012) rotate(-90)" font-size="11.2" font-weight="bold" text-anchor="middle" fill="#222">n<tspan font-size="7.4" dy="2">eff</tspan><tspan dy="-2"> (TM)</tspan></text>
<text x="174.9" y="925.6" font-size="19.5" fill="#111" stroke="#111" stroke-width="0.3">c</text>
<rect x="509.1" y="929.6" width="221.8" height="158.3" fill="#fff"/>
<path d="M509.1,982.4H730.9M509.1,1035.1H730.9" stroke="#d6d6d6" stroke-width="1"/>
<path d="M550.4,1087.9v-3.4M591.3,1087.9v-3.4M632.3,1087.9v-3.4M673.2,1087.9v-3.4M714.2,1087.9v-3.4M509.1,982.4h3.2M509.1,1035.1h3.2" stroke="#333" stroke-width="1"/>
<path d="M525.8,1085.0C529.9,1084.6 542.2,1083.4 550.4,1082.4C558.6,1081.4 568.1,1079.8 574.9,1078.8C581.7,1077.8 585.8,1077.2 591.3,1076.5C596.8,1075.8 600.9,1075.3 607.7,1074.4C614.5,1073.5 624.1,1072.2 632.3,1071.3C640.5,1070.3 650.0,1069.3 656.8,1068.7C663.6,1068.1 667.7,1067.8 673.2,1067.4C678.7,1067.0 682.8,1066.6 689.6,1066.1C696.4,1065.6 710.1,1064.8 714.2,1064.5" fill="none" stroke="#4A7EBB" stroke-width="1.4" stroke-linejoin="round"/>
<path d="M525.8,1082.6L528.2,1085.0L525.8,1087.4L523.4,1085.0ZM550.4,1080.0L552.8,1082.4L550.4,1084.8L548.0,1082.4ZM574.9,1076.4L577.3,1078.8L574.9,1081.2L572.5,1078.8ZM591.3,1074.1L593.7,1076.5L591.3,1078.9L588.9,1076.5ZM607.7,1072.0L610.1,1074.4L607.7,1076.8L605.3,1074.4ZM632.3,1068.9L634.7,1071.3L632.3,1073.7L629.9,1071.3ZM656.8,1066.3L659.2,1068.7L656.8,1071.1L654.4,1068.7ZM673.2,1065.0L675.6,1067.4L673.2,1069.8L670.8,1067.4ZM689.6,1063.7L692.0,1066.1L689.6,1068.5L687.2,1066.1ZM714.2,1062.1L716.6,1064.5L714.2,1066.9L711.8,1064.5Z" fill="#4A7EBB" stroke="#4A7EBB" stroke-width="0.5"/>
<path d="M525.8,1079.3C529.9,1078.2 542.2,1074.8 550.4,1072.6C558.6,1070.3 568.1,1067.6 574.9,1065.8C581.7,1064.0 585.8,1063.1 591.3,1061.9C596.8,1060.7 600.9,1059.9 607.7,1058.6C614.5,1057.3 624.1,1055.3 632.3,1054.1C640.5,1052.9 650.0,1052.1 656.8,1051.3C663.6,1050.5 667.7,1050.1 673.2,1049.5C678.7,1048.9 682.8,1048.5 689.6,1047.9C696.4,1047.3 710.1,1046.4 714.2,1046.1" fill="none" stroke="#BE4B48" stroke-width="1.4" stroke-linejoin="round"/>
<path d="M523.7,1077.2h4.2v4.2h-4.2zM548.3,1070.5h4.2v4.2h-4.2zM572.8,1063.7h4.2v4.2h-4.2zM589.2,1059.8h4.2v4.2h-4.2zM605.6,1056.5h4.2v4.2h-4.2zM630.2,1052.0h4.2v4.2h-4.2zM654.7,1049.2h4.2v4.2h-4.2zM671.1,1047.4h4.2v4.2h-4.2zM687.5,1045.8h4.2v4.2h-4.2zM712.1,1044.0h4.2v4.2h-4.2z" fill="#BE4B48" stroke="#BE4B48" stroke-width="0.5"/>
<path d="M525.8,1067.1C529.9,1065.1 542.2,1058.9 550.4,1055.4C558.6,1052.0 568.1,1048.8 574.9,1046.4C581.7,1044.0 585.8,1042.8 591.3,1041.2C596.8,1039.6 600.9,1038.5 607.7,1037.0C614.5,1035.5 624.1,1033.6 632.3,1032.1C640.5,1030.6 650.0,1029.2 656.8,1028.2C663.6,1027.2 667.7,1026.7 673.2,1026.1C678.7,1025.5 682.8,1025.2 689.6,1024.6C696.4,1024.0 710.1,1023.0 714.2,1022.7" fill="none" stroke="#98B954" stroke-width="1.4" stroke-linejoin="round"/>
<path d="M525.8,1064.7L528.2,1069.5L523.4,1069.5ZM550.4,1053.0L552.8,1057.8L548.0,1057.8ZM574.9,1044.0L577.3,1048.8L572.5,1048.8ZM591.3,1038.8L593.7,1043.6L588.9,1043.6ZM607.7,1034.6L610.1,1039.4L605.3,1039.4ZM632.3,1029.7L634.7,1034.5L629.9,1034.5ZM656.8,1025.8L659.2,1030.6L654.4,1030.6ZM673.2,1023.7L675.6,1028.5L670.8,1028.5ZM689.6,1022.2L692.0,1027.0L687.2,1027.0ZM714.2,1020.3L716.6,1025.1L711.8,1025.1Z" fill="#98B954" stroke="#98B954" stroke-width="0.5"/>
<path d="M525.8,1048.2C529.9,1045.6 542.2,1037.0 550.4,1032.4C558.6,1027.8 568.1,1023.4 574.9,1020.4C581.7,1017.4 585.8,1016.1 591.3,1014.4C596.8,1012.7 600.9,1011.7 607.7,1010.0C614.5,1008.3 624.1,1005.9 632.3,1004.3C640.5,1002.7 650.0,1001.4 656.8,1000.4C663.6,999.4 667.7,998.8 673.2,998.1C678.7,997.5 682.8,997.1 689.6,996.5C696.4,995.9 710.1,994.8 714.2,994.5" fill="none" stroke="#7D60A0" stroke-width="1.4" stroke-linejoin="round"/>
<path d="M523.6,1046.0L528.0,1050.4M528.0,1046.0L523.6,1050.4M548.2,1030.2L552.6,1034.6M552.6,1030.2L548.2,1034.6M572.7,1018.2L577.1,1022.6M577.1,1018.2L572.7,1022.6M589.1,1012.2L593.5,1016.6M593.5,1012.2L589.1,1016.6M605.5,1007.8L609.9,1012.2M609.9,1007.8L605.5,1012.2M630.1,1002.1L634.5,1006.5M634.5,1002.1L630.1,1006.5M654.6,998.2L659.0,1002.6M659.0,998.2L654.6,1002.6M671.0,995.9L675.4,1000.3M675.4,995.9L671.0,1000.3M687.4,994.3L691.8,998.7M691.8,994.3L687.4,998.7M712.0,992.3L716.4,996.7M716.4,992.3L712.0,996.7" fill="none" stroke="#7D60A0" stroke-width="0.8"/>
<path d="M525.8,1023.3C529.9,1020.0 542.2,1009.4 550.4,1003.8C558.6,998.2 568.1,993.2 574.9,989.8C581.7,986.4 585.8,985.5 591.3,983.6C596.8,981.7 600.9,980.2 607.7,978.4C614.5,976.6 624.1,974.4 632.3,972.7C640.5,971.1 650.0,969.5 656.8,968.5C663.6,967.5 667.7,967.0 673.2,966.4C678.7,965.8 682.8,965.2 689.6,964.6C696.4,964.0 710.1,963.1 714.2,962.8" fill="none" stroke="#46AAC5" stroke-width="1.4" stroke-linejoin="round"/>
<path d="M523.5,1021.0L528.1,1025.6M528.1,1021.0L523.5,1025.6M525.8,1021.0V1025.6M548.1,1001.5L552.7,1006.1M552.7,1001.5L548.1,1006.1M550.4,1001.5V1006.1M572.6,987.5L577.2,992.1M577.2,987.5L572.6,992.1M574.9,987.5V992.1M589.0,981.3L593.6,985.9M593.6,981.3L589.0,985.9M591.3,981.3V985.9M605.4,976.1L610.0,980.7M610.0,976.1L605.4,980.7M607.7,976.1V980.7M630.0,970.4L634.6,975.0M634.6,970.4L630.0,975.0M632.3,970.4V975.0M654.5,966.2L659.1,970.8M659.1,966.2L654.5,970.8M656.8,966.2V970.8M670.9,964.1L675.5,968.7M675.5,964.1L670.9,968.7M673.2,964.1V968.7M687.3,962.3L691.9,966.9M691.9,962.3L687.3,966.9M689.6,962.3V966.9M711.9,960.5L716.5,965.1M716.5,960.5L711.9,965.1M714.2,960.5V965.1" fill="none" stroke="#46AAC5" stroke-width="0.8"/>
<rect x="509.1" y="929.6" width="221.8" height="158.3" fill="none" stroke="#3c3c3c" stroke-width="1.6"/>
<rect x="509.1" y="929.6" width="166.6" height="30.6" fill="#fff" stroke="#7a7a7a" stroke-width="0.8"/>
<path d="M514.3,944.1H526.0" stroke="#4A7EBB" stroke-width="1.1"/>
<path d="M520.1,942.1L522.1,944.1L520.1,946.1L518.1,944.1Z" fill="#4A7EBB"/>
<text x="526.8" y="947.0" font-size="8.2" fill="#222">0.1</text>
<path d="M542.8,944.1H554.5" stroke="#BE4B48" stroke-width="1.1"/>
<path d="M546.6,942.1h4.0v4.0h-4.0z" fill="#BE4B48"/>
<text x="555.3" y="947.0" font-size="8.2" fill="#222">0.125</text>
<path d="M579.1,944.1H590.8" stroke="#98B954" stroke-width="1.1"/>
<path d="M585.0,942.1L587.0,946.1L583.0,946.1Z" fill="#98B954"/>
<text x="592.1" y="947.0" font-size="8.2" fill="#222">0.15</text>
<path d="M612.1,944.1H624.0" stroke="#7D60A0" stroke-width="1.1"/>
<path d="M616.0,942.1L620.0,946.1M620.0,942.1L616.0,946.1" fill="none" stroke="#7D60A0" stroke-width="0.8"/>
<text x="624.8" y="947.0" font-size="8.2" fill="#222">0.175</text>
<path d="M649.2,944.1H660.4" stroke="#46AAC5" stroke-width="1.1"/>
<path d="M652.8,942.1L656.8,946.1M656.8,942.1L652.8,946.1M654.8,942.1V946.1" fill="none" stroke="#46AAC5" stroke-width="0.8"/>
<text x="661.4" y="947.0" font-size="8.2" fill="#222">0.2</text>
<text x="502.8" y="933.1" font-size="10.0" text-anchor="end" fill="#333">0.15</text>
<text x="502.8" y="985.9" font-size="10.0" text-anchor="end" fill="#333">0.1</text>
<text x="502.8" y="1038.6" font-size="10.0" text-anchor="end" fill="#333">0.05</text>
<text x="502.8" y="1091.4" font-size="10.0" text-anchor="end" fill="#333">0</text>
<text x="509.4" y="1104.4" font-size="10.0" text-anchor="middle" fill="#333">1</text>
<text x="550.4" y="1104.4" font-size="10.0" text-anchor="middle" fill="#333">1.5</text>
<text x="591.3" y="1104.4" font-size="10.0" text-anchor="middle" fill="#333">2</text>
<text x="632.3" y="1104.4" font-size="10.0" text-anchor="middle" fill="#333">2.5</text>
<text x="673.2" y="1104.4" font-size="10.0" text-anchor="middle" fill="#333">3</text>
<text x="714.2" y="1104.4" font-size="10.0" text-anchor="middle" fill="#333">3.5</text>
<text x="620.3" y="1122.3" font-size="11.3" text-anchor="middle" font-weight="bold" fill="#222">W (μm)</text>
<text transform="translate(472.0,1005.5) rotate(-90)" font-size="11.3" font-weight="bold" text-anchor="middle" textLength="136" lengthAdjust="spacingAndGlyphs" fill="#222">Confinement Factor (TM)</text>
<text x="463.4" y="925.3" font-size="19.5" fill="#111" stroke="#111" stroke-width="0.3">d</text>
</g>
</svg>
<div class="l h" style="left:51.70px;top:56.00px;">24</div>
<div class="l h j" style="left:322.00px;top:56.00px;width:267.60px;"><em>Z. Zhang et al. / Optics Communications 321 (2014) 23–27</em></div>
<div class="l  j" style="left:51.70px;top:90.00px;width:390.00px;">FIMMWAVE and the results are summarized in <a>Fig. 2</a>. The single</div>
<div class="l  j" style="left:51.70px;top:106.00px;width:390.00px;">mode border is labelled as a black dashed line in <a>Fig. 2</a>(a) and</div>
<div class="l  j" style="left:51.70px;top:122.00px;width:390.00px;">(c) for TE and TM polarizations, respectively. The effective index</div>
<div class="l  j" style="left:51.70px;top:139.00px;width:390.00px;">(<i>n</i><sub>eff</sub>) and the mode confinement factor (<i>Γ</i>) increase rapidly when</div>
<div class="l  j" style="left:51.70px;top:155.00px;width:390.00px;">the waveguide thickness increases. A clear difference between TE</div>
<div class="l  j" style="left:51.70px;top:171.00px;width:390.00px;">and TM mode is seen, with the TM mode always being less</div>
<div class="l  j" style="left:51.70px;top:187.00px;width:390.00px;">confined and registering a lower <i>n</i><sub>eff</sub>. For example, a structure of</div>
<div class="l  j" style="left:51.70px;top:204.00px;width:390.00px;">2&#8197;μm&#8197;×&#8197;200&#8197;nm gives a relatively good confined yet still single TE</div>
<div class="l  j" style="left:51.70px;top:220.00px;width:390.00px;">mode, with <i>Γ</i>∼30%, while for the TM mode, the value drops</div>
<div class="l" style="left:51.70px;top:236.00px;">quickly to 10%.</div>
<div class="l" style="left:488.90px;top:90.00px;">The thermal tuning of Bragg grating can be expressed by</div>
<div class="l  j" style="left:470.30px;top:156.00px;width:390.20px;">where <span class="m">Δ</span><i>λ</i> is the wavelength tuning, <i>Λ</i> is the grating period, and <i>M</i></div>
<div class="l" style="left:470.30px;top:172.00px;">is the grating order.</div>
<div class="l  j" style="left:488.90px;top:188.00px;width:371.60px;">The effective index variation with respect to the temperature</div>
<div class="l" style="left:470.30px;top:204.00px;">change can be written as</div>
<div class="l  j" style="left:488.90px;top:270.00px;width:371.60px;">The thermo-optic coefficient (TOC) of the specific polymer used</div>
<div class="l  j" style="left:470.30px;top:286.00px;width:390.20px;">in this study has been measured to be <i class="d">∂</i><i>n</i><sub style="font-family:'DejaVu Sans Condensed','DejaVu Sans',sans-serif;font-size:8.8px">poly</sub>/<i class="d">∂</i><i>T</i>&#8201;=&#8201;−&#8201;1.1&#8201;×&#8201;10<sup>−&#8201;4</sup>&#8202;/K,</div>
<div class="l  j" style="left:470.30px;top:302.00px;width:390.20px;">and for SiN<sub><em>x</em></sub> the value is determined to be <i class="d">∂</i><i>n</i><sub style="font-family:'DejaVu Sans Condensed','DejaVu Sans',sans-serif;font-size:8.8px">&#8201;SiN<sub style="font-family:'DejaVu Sans Condensed','DejaVu Sans',sans-serif;font-size:6.6px">x</sub></sub>/<i class="d">∂</i><i>T</i>&#8201;=&#8201;+3.0×</div>
<div class="l" style="left:470.30px;top:318.00px;">10<sup>−&#8201;5</sup>&#8202;/K.</div>
<div class="l  j" style="left:488.90px;top:334.00px;width:371.60px;">Waveguides with higher <i>n</i><sub>eff</sub> and larger <i>Γ</i> usually lead to more</div>
<div class="l  j" style="left:470.30px;top:351.00px;width:390.20px;">compact devices. However, since the TOCs of polymer and SiN<sub><em>x</em></sub></div>
<div class="l  j" style="left:470.30px;top:367.00px;width:390.20px;">material have opposite signs, a substantial amount of light should</div>
<div class="l  j" style="left:470.30px;top:383.00px;width:390.20px;">preferably remain in the cladding. In this way, the polymer</div>
<div class="l  j" style="left:470.30px;top:399.00px;width:390.20px;">thermo-optic properties dominate and power efficient thermal</div>
<div class="l  j" style="left:470.30px;top:416.00px;width:390.20px;">tuning can be realized. A good balance between mode confine-</div>
<div class="l  j" style="left:470.30px;top:432.00px;width:390.20px;">ment and wavelength tunability should be made. As a compro-</div>
<div class="l  j" style="left:470.30px;top:448.00px;width:390.20px;">mise, the waveguide structure in this study is chosen to be</div>
<div class="l  j" style="left:470.30px;top:464.00px;width:390.20px;">3&#8197;μm&#8197;×&#8197;125&#8197;nm. The corresponding principal mode field distribu-</div>
<div class="l  j" style="left:470.30px;top:480.00px;width:390.20px;">tions are shown in <a>Fig. 3</a>. The TE mode field diameter extends in</div>
<div class="l  j" style="left:470.30px;top:497.00px;width:390.20px;">the horizontal direction to 3.0&#8197;μm and in the vertical direction to</div>
<div class="l  j" style="left:470.30px;top:513.00px;width:390.20px;">1.5&#8197;μm, while for the TM mode the values are 3.9&#8197;μm and 2.8&#8197;μm,</div>
<div class="l" style="left:470.30px;top:529.00px;">respectively.</div>
<div class="l  j" style="left:488.90px;top:545.00px;width:371.60px;">The grating functions as a Bragg reflector when the grating</div>
<div class="l  j" style="left:470.30px;top:562.00px;width:390.20px;">order is an even number. In order to be patterned by conventional</div>
<div class="l  j" style="left:470.30px;top:578.00px;width:390.20px;">photolithography, third-order gratings are considered in this</div>
<div class="l  j" style="left:470.30px;top:594.00px;width:390.20px;">study. For a grating central wavelength of 1550&#8197;nm, the period is</div>
<div class="l  j" style="left:470.30px;top:610.00px;width:390.20px;">calculated to be 1600&#8197;nm. Since TE mode exhibits higher <i>n</i><sub>eff</sub> and</div>
<div class="l  j" style="left:470.30px;top:627.00px;width:390.20px;">larger <i>Γ</i>, higher peak reflectivity is expected. In addition, when</div>
<div class="l  j" style="left:470.30px;top:643.00px;width:390.20px;">used as a tunable reflector in a laser cavity, TE is usually the</div>
<div class="l  j" style="left:470.30px;top:659.00px;width:390.20px;">preferred polarization. Therefore we concentrate on the TE mode</div>
<div class="l c j" style="left:51.70px;top:635.00px;width:390.00px;"><b>Fig. 1.</b>&ensp;Schematic of the buried SiN<sub><em>x</em></sub> waveguide grating and metal heater electrode</div>
<div class="l c j" style="left:51.70px;top:649.00px;width:390.00px;">in polymer. (a) Cross-section view; (b) lateral view showing the completely etched</div>
<div class="l c" style="left:51.70px;top:662.00px;">grating structure.</div>
<div class="l c j" style="left:51.70px;top:1137.00px;width:808.80px;"><b>Fig. 2.</b>&ensp;Mode properties with respect to waveguide geometry. The horizontal axis represents the waveguide width and the legend indicates the waveguide thickness, both in</div>
<div class="l c j" style="left:51.70px;top:1150.00px;width:775.00px;">units of micrometers. (a) Effective index and (b) mode confinement factor for the TE mode. (c) Effective index and (d) mode confinement factor for the TM mode.</div>
<div class="eq" style="left:0;top:0;"><span style="left:469.70px;top:122.77px;font-size:14.6px;">Δ<em>λ</em></span><span style="left:488.60px;top:122.77px;font-size:14.6px;"><b class="w" style="font-weight:normal">=</b></span><span style="left:501.60px;top:114.47px;font-size:14.6px;">2Λ</span><span style="left:504.00px;top:131.67px;font-size:14.6px;"><em>M</em></span><div class="bar" style="left:501.2px;top:131.9px;width:18.6px"></div><span style="left:521.60px;top:114.47px;font-size:14.6px;"><em class="d">∂</em><em>n</em><sub>eff</sub></span><span style="left:528.00px;top:131.67px;font-size:14.6px;"><em class="d">∂</em><em>T</em></span><div class="bar" style="left:521.0px;top:131.9px;width:25.6px"></div><span style="left:546.80px;top:122.77px;font-size:14.6px;">Δ<em>T</em>,</span><span style="left:844.60px;top:123.70px;font-size:12.75px;font-family:'DejaVu Serif Condensed','DejaVu Serif',serif;-webkit-text-stroke:0;">(1)</span><span style="left:470.60px;top:227.77px;font-size:14.6px;"><em class="d">∂</em><em>n</em><sub>eff</sub></span><span style="left:476.60px;top:244.57px;font-size:14.6px;"><em class="d">∂</em><em>T</em></span><div class="bar" style="left:470.0px;top:245.6px;width:25.6px"></div><span style="left:498.60px;top:236.47px;font-size:14.6px;"><b class="w" style="font-weight:normal">=</b></span><span style="left:510.80px;top:236.47px;font-size:14.6px;">(1&#8201;−&#8201;Γ)</span><span style="left:549.60px;top:227.77px;font-size:14.6px;"><em class="d">∂</em><em>n</em><sub style="font-family:'DejaVu Sans Condensed','DejaVu Sans',sans-serif;font-size:8.8px">poly</sub></span><span style="left:558.20px;top:244.57px;font-size:14.6px;"><em class="d">∂</em><em>T</em></span><div class="bar" style="left:549.0px;top:245.6px;width:31.6px"></div><span style="left:582.80px;top:236.47px;font-size:14.6px;">+</span><span style="left:593.60px;top:236.47px;font-size:14.6px;"><em>Γ</em></span><span style="left:603.80px;top:227.77px;font-size:14.6px;"><em class="d">∂</em><em>n</em><sub style="font-family:'DejaVu Sans Condensed','DejaVu Sans',sans-serif;font-size:8.8px">&#8201;SiN<sub style="font-family:'DejaVu Sans Condensed','DejaVu Sans',sans-serif;font-size:6.6px">x</sub></sub></span><span style="left:614.60px;top:244.57px;font-size:14.6px;"><em class="d">∂</em><em>T</em></span><div class="bar" style="left:603.2px;top:245.6px;width:35.8px"></div><span style="left:640.40px;top:236.47px;font-size:14.6px;">,</span><span style="left:844.60px;top:237.30px;font-size:12.75px;font-family:'DejaVu Serif Condensed','DejaVu Serif',serif;-webkit-text-stroke:0;">(2)</span></div>
</body></html>
